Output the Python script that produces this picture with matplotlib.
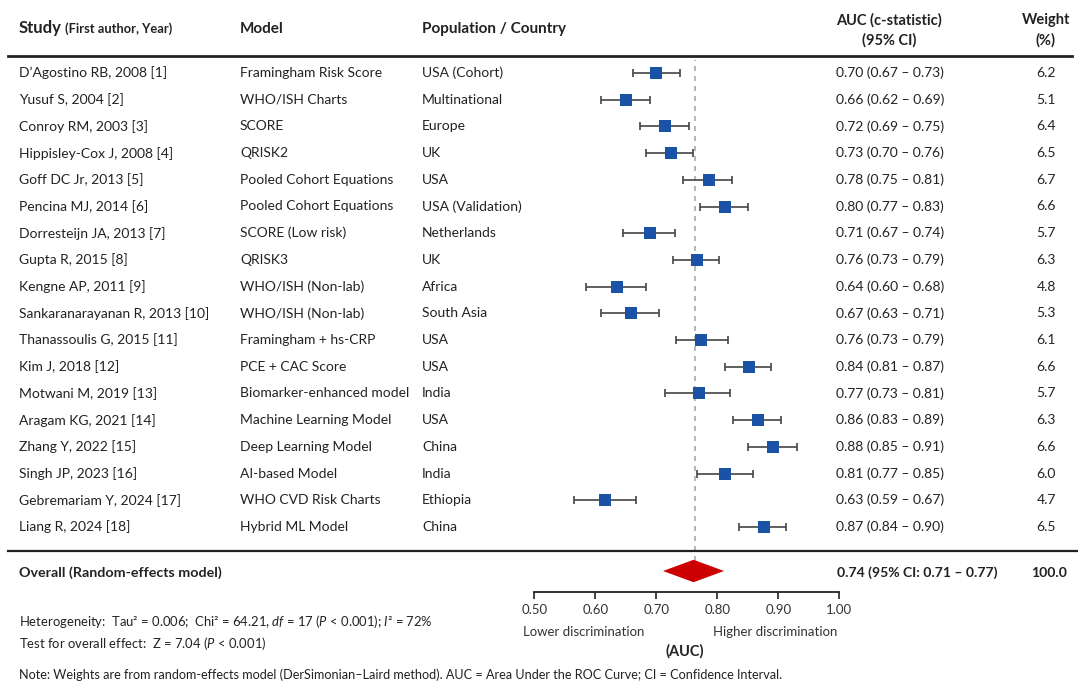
import matplotlib
matplotlib.use("Agg")
import matplotlib.pyplot as plt
from matplotlib.lines import Line2D

plt.rcParams['font.family'] = ['Lato', 'DejaVu Sans']
plt.rcParams['mathtext.fontset'] = 'custom'
plt.rcParams['mathtext.rm'] = 'Lato'
plt.rcParams['mathtext.it'] = 'Lato:italic'

# data
studies = ["D\u2019Agostino RB, 2008 [1]", "Yusuf S, 2004 [2]", "Conroy RM, 2003 [3]",
           "Hippisley-Cox J, 2008 [4]", "Goff DC Jr, 2013 [5]", "Pencina MJ, 2014 [6]",
           "Dorresteijn JA, 2013 [7]", "Gupta R, 2015 [8]", "Kengne AP, 2011 [9]",
           "Sankaranarayanan R, 2013 [10]", "Thanassoulis G, 2015 [11]", "Kim J, 2018 [12]",
           "Motwani M, 2019 [13]", "Aragam KG, 2021 [14]", "Zhang Y, 2022 [15]",
           "Singh JP, 2023 [16]", "Gebremariam Y, 2024 [17]", "Liang R, 2024 [18]"]
models = ["Framingham Risk Score", "WHO/ISH Charts", "SCORE", "QRISK2",
          "Pooled Cohort Equations", "Pooled Cohort Equations", "SCORE (Low risk)", "QRISK3",
          "WHO/ISH (Non-lab)", "WHO/ISH (Non-lab)", "Framingham + hs-CRP", "PCE + CAC Score",
          "Biomarker-enhanced model", "Machine Learning Model", "Deep Learning Model",
          "AI-based Model", "WHO CVD Risk Charts", "Hybrid ML Model"]
populations = ["USA (Cohort)", "Multinational", "Europe", "UK", "USA", "USA (Validation)",
               "Netherlands", "UK", "Africa", "South Asia", "USA", "USA", "India", "USA",
               "China", "India", "Ethiopia", "China"]
auc_text = ["0.70 (0.67 \u2013 0.73)", "0.66 (0.62 \u2013 0.69)", "0.72 (0.69 \u2013 0.75)",
            "0.73 (0.70 \u2013 0.76)", "0.78 (0.75 \u2013 0.81)", "0.80 (0.77 \u2013 0.83)",
            "0.71 (0.67 \u2013 0.74)", "0.76 (0.73 \u2013 0.79)", "0.64 (0.60 \u2013 0.68)",
            "0.67 (0.63 \u2013 0.71)", "0.76 (0.73 \u2013 0.79)", "0.84 (0.81 \u2013 0.87)",
            "0.77 (0.73 \u2013 0.81)", "0.86 (0.83 \u2013 0.89)", "0.88 (0.85 \u2013 0.91)",
            "0.81 (0.77 \u2013 0.85)", "0.63 (0.59 \u2013 0.67)", "0.87 (0.84 \u2013 0.90)"]
weights = ["6.2", "5.1", "6.4", "6.5", "6.7", "6.6", "5.7", "6.3", "4.8", "5.3",
           "6.1", "6.6", "5.7", "6.3", "6.6", "6.0", "4.7", "6.5"]

# plotted positions as drawn in the figure
auc_pt = [0.700, 0.651, 0.715, 0.724, 0.786, 0.813, 0.690, 0.766, 0.635, 0.659,
          0.774, 0.852, 0.770, 0.866, 0.891, 0.813, 0.616, 0.877]
ci_lo = [0.661, 0.609, 0.674, 0.683, 0.744, 0.772, 0.645, 0.727, 0.584, 0.610,
         0.732, 0.813, 0.714, 0.825, 0.851, 0.766, 0.565, 0.836]
ci_hi = [0.739, 0.689, 0.753, 0.760, 0.824, 0.851, 0.731, 0.803, 0.683, 0.705,
         0.818, 0.888, 0.821, 0.904, 0.930, 0.859, 0.667, 0.913]

pooled = 0.761
pooled_lo = 0.711
pooled_hi = 0.811
ref_line = 0.763
xticks = [0.5, 0.6, 0.7, 0.8, 0.9, 1.0]

W, H = 1078, 684
fig = plt.figure(figsize=(W / 100, H / 100), dpi=100)
fig.patch.set_facecolor("white")
TXT = "#222222"


def ftext(x, y, s, **kw):
    kw.setdefault("color", TXT)
    kw.setdefault("fontsize", 10)
    kw.setdefault("va", "center")
    fig.text(x / W, 1 - y / H, s, **kw)


def hline(x0, x1, y, lw):
    fig.add_artist(Line2D([x0 / W, x1 / W], [1 - y / H, 1 - y / H],
                          transform=fig.transFigure, color="#222222", lw=lw))


# header
ftext(19, 28, "Study", fontsize=12, fontweight="bold")
ftext(65, 29, "(First author, Year)", fontsize=9.3, fontweight="bold")
ftext(240, 29, "Model", fontsize=11, fontweight="bold")
ftext(422, 29, "Population / Country", fontsize=11, fontweight="bold")
ftext(889, 20, "AUC (c-statistic)", fontsize=10.5, fontweight="bold", ha="center")
ftext(889, 40, "(95% CI)", fontsize=10.5, fontweight="bold", ha="center")
ftext(1046, 20, "Weight", fontsize=10.5, fontweight="bold", ha="center")
ftext(1046, 40, "(%)", fontsize=10.5, fontweight="bold", ha="center")
hline(8, 1072, 56, 2.0)
hline(8, 1078, 551, 1.6)

row_y0, row_dy = 73, 26.7
for i in range(len(studies)):
    y = row_y0 + i * row_dy
    ftext(19, y, studies[i])
    ftext(240, y, models[i])
    ftext(422, y, populations[i])
    ftext(836, y, auc_text[i])
    ftext(1046, y, weights[i], ha="center")

# overall row
ftext(19, 573, "Overall (Random-effects model)", fontsize=10.3, fontweight="bold")
ftext(837, 573, "0.74 (95% CI: 0.71 \u2013 0.77)", fontsize=10.1, fontweight="bold")
ftext(1049, 573, "100.0", fontsize=10.1, fontweight="bold", ha="center")

# forest axes
top_px, bot_px = 60, 592
ax = fig.add_axes([534.3 / W, (H - bot_px) / H, 305 / W, (bot_px - top_px) / H])
ax.set_xlim(0.5, 1.0)
ax.set_ylim((bot_px - row_y0) / row_dy, (top_px - row_y0) / row_dy)
ax.patch.set_alpha(0)
for s in ["top", "left", "right"]:
    ax.spines[s].set_visible(False)
ax.spines["bottom"].set_linewidth(1.3)
ax.spines["bottom"].set_color("#222222")
ax.set_yticks([])
ax.set_xticks(xticks)
ax.set_xticklabels([f"{t:.2f}" for t in xticks])
ax.tick_params(axis="x", direction="out", length=5, width=1.2, pad=4,
               labelsize=9.5, labelcolor="#333333", color="#222222")

ax.axvline(ref_line, ymin=0.02, ymax=1.0, color="#aaaaaa", lw=1.2,
           dashes=(3, 3), zorder=0)

rows = list(range(len(studies)))
for i in rows:
    ax.errorbar(auc_pt[i], i, xerr=[[auc_pt[i] - ci_lo[i]], [ci_hi[i] - auc_pt[i]]],
                fmt="none", ecolor="#444444", elinewidth=1.2, capsize=2.8,
                capthick=1.2, zorder=2, clip_on=False)
ax.plot(auc_pt, rows, "s", color="#1a52a6", markersize=9.3, zorder=3,
        clip_on=False, markeredgewidth=0)

yc = (571 - row_y0) / row_dy
ax.fill([pooled_lo, pooled, pooled_hi, pooled],
        [yc, yc - 0.42, yc, yc + 0.42], color="#cc0000", zorder=3, lw=0)

# axis annotations
ftext(523, 632, "Lower discrimination", fontsize=9.5, color="#333333")
ftext(713, 632, "Higher discrimination", fontsize=9.5, color="#333333")
ftext(685, 651, "(AUC)", fontsize=10.5, fontweight="bold", ha="center")

# footer
ftext(19, 621, r"Heterogeneity:  Tau² = 0.006;  Chi² = 64.21, $\mathit{df}$ = 17 "
               r"($\mathit{P}$ < 0.001); $\mathit{I}$² = 72%", fontsize=9.4)
ftext(19, 644, r"Test for overall effect:  Z = 7.04 ($\mathit{P}$ < 0.001)", fontsize=9.4)
ftext(19, 675, "Note: Weights are from random-effects model (DerSimonian\u2013Laird method). "
               "AUC = Area Under the ROC Curve; CI = Confidence Interval.", fontsize=9.1)

fig.savefig("out.png", dpi=100)
